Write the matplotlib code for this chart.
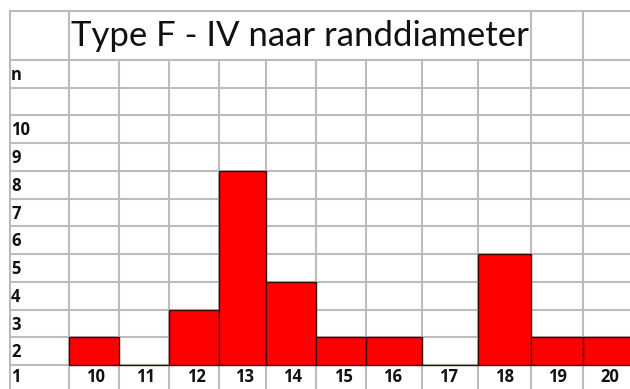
import matplotlib.pyplot as plt

# randdiameter klassen en aantallen (gevulde cellen boven rij 1)
diameters = ['10', '11', '12', '13', '14', '15', '16', '17', '18', '19', '20']
aantal = [1, 0, 2, 7, 3, 1, 1, 0, 4, 1, 1]
row_labels = ['1', '2', '3', '4', '5', '6', '7', '8', '9', '10', '', 'n']
title = 'Type F - IV naar randdiameter'

# kolomranden van het rekenblad (pixels)
col_edges = [69, 119, 169, 219, 266, 316, 366, 422, 478, 531, 583, 640]
left_edge = 10
title_top = 13.77
grid_c = '#bcbcbc'

plt.rcParams['font.family'] = ['Lato', 'DejaVu Sans']

fig = plt.figure(figsize=(6.3, 3.89), dpi=100)
ax = fig.add_axes([0, 0, 1, 1])
ax.set_xlim(0, 630)
ax.set_ylim(0.135, 14.16)
ax.axis('off')

# horizontale rasterlijnen
for k in range(1, 13):
    ax.plot([left_edge, 630], [k, k], color=grid_c, lw=1.5, zorder=1)
ax.plot([left_edge, 630], [title_top, title_top], color=grid_c, lw=1.5, zorder=1)

# verticale rasterlijnen
ax.plot([left_edge, left_edge], [0, title_top], color=grid_c, lw=1.5, zorder=1)
for i, x in enumerate(col_edges[:-1]):
    top = title_top if (i == 0 or x >= 531) else 12
    ax.plot([x, x], [0, top], color=grid_c, lw=1.5, zorder=1)

# staven
lefts = col_edges[:-1]
widths = [b - a for a, b in zip(col_edges[:-1], col_edges[1:])]
ax.bar(lefts, aantal, width=widths, bottom=1, align='edge',
       color='#ff0000', edgecolor='#3a0a0a', linewidth=1.0, zorder=3)

# rijlabels in de eerste kolom
for k, lab in enumerate(row_labels):
    y = k + 0.46 if k > 0 else 0.56
    ax.text(left_edge + 1, y, lab, ha='left', va='center',
            fontsize=12, fontweight='bold', family='Open Sans',
            color='#111111', zorder=4)

# klassen in de onderste rij
for x0, w, lab in zip(lefts, widths, diameters):
    ax.text(x0 + min(w, 50) / 2 + 2, 0.56, lab, ha='center', va='center',
            fontsize=12, fontweight='bold', family='Open Sans',
            color='#111111', zorder=4)

ax.text(71, (12 + title_top) / 2 - 0.02, title, ha='left', va='center',
        fontsize=25, color='#111111', zorder=4)

fig.savefig('out.png', dpi=100)
